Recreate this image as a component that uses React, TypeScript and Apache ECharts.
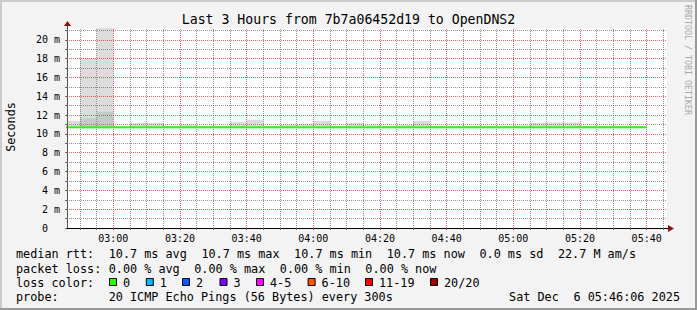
import React, { useEffect, useRef } from "react";
import * as echarts from "echarts";

// ---------- data ----------
const TITLE = "Last 3 Hours from 7b7a06452d19 to OpenDNS2";
const START_TIME = "02:46:06";
const END_TIME = "05:46:06";
const STEP_SECONDS = 300;

const stepStarts = [
  "02:45", "02:50", "02:55", "03:00", "03:05", "03:10", "03:15", "03:20", "03:25",
  "03:30", "03:35", "03:40", "03:45", "03:50", "03:55", "04:00", "04:05", "04:10",
  "04:15", "04:20", "04:25", "04:30", "04:35", "04:40", "04:45", "04:50", "04:55",
  "05:00", "05:05", "05:10", "05:15", "05:20", "05:25", "05:30", "05:35",
];

// median rtt (ms) per step
const medianMs = [
  10.7, 10.7, 10.7, 10.7, 10.7, 10.7, 10.7, 10.7, 10.7,
  10.7, 10.7, 10.7, 10.7, 10.7, 10.7, 10.7, 10.7, 10.7,
  10.7, 10.7, 10.7, 10.7, 10.7, 10.7, 10.7, 10.7, 10.7,
  10.7, 10.7, 10.7, 10.7, 10.7, 10.7, 10.7, 10.7,
];

// smoke: lowest ping (ms)
const smokeMinMs = [
  10.6, 10.6, 10.6, 10.6, 10.6, 10.6, 10.6, 10.6, 10.6,
  10.6, 10.6, 10.6, 10.6, 10.6, 10.6, 10.6, 10.6, 10.6,
  10.6, 10.6, 10.6, 10.6, 10.6, 10.6, 10.6, 10.6, 10.6,
  10.6, 10.6, 10.6, 10.6, 10.6, 10.6, 10.6, 10.6,
];

// smoke: dense part (ms)
const smokeDenseMs = [
  10.6, 11.64, 12.35, 10.6, 10.6, 10.6, 10.6, 10.6, 10.6,
  10.6, 10.6, 10.6, 10.6, 10.6, 10.6, 10.6, 10.6, 10.6,
  10.6, 10.6, 10.6, 10.6, 10.6, 10.6, 10.6, 10.6, 10.6,
  10.6, 10.6, 10.6, 10.6, 10.6, 10.6, 10.6, 10.6,
];

// smoke: highest ping (ms)
const smokeMaxMs = [
  11.39, 18.05, 22.0, 10.8, 11.18, 11.18, 10.85, 11.0, 10.85,
  10.85, 11.28, 11.5, 10.85, 11.0, 11.08, 11.39, 10.85, 11.18,
  10.95, 10.85, 10.95, 11.39, 10.85, 10.85, 10.85, 10.85, 10.85,
  10.9, 11.18, 11.22, 11.22, 10.85, 10.85, 10.85, 10.85,
];

const xLabelTimes = ["03:00", "03:20", "03:40", "04:00", "04:20", "04:40", "05:00", "05:20", "05:40"];
const yLabelValues = [0, 2, 4, 6, 8, 10, 12, 14, 16, 18, 20];
const Y_MAX = 21.25;

const legendRtt = ["median rtt:", "10.7 ms avg", "10.7 ms max", "10.7 ms min", "10.7 ms now", "0.0 ms sd", "22.7 M am/s"];
const legendLoss = ["packet loss:", "0.00 % avg", "0.00 % max", "0.00 % min", "0.00 % now"];
const lossLabels = ["0", "1", "2", "3", "4-5", "6-10", "11-19", "20/20"];
const lossColors = ["#26ff00", "#00b8ff", "#0059ff", "#7e00ff", "#ff00ff", "#ff5500", "#ff0000", "#a10000"];
const probeText = ["probe:", "20 ICMP Echo Pings (56 Bytes) every 300s"];
const dateText = ["Sat Dec", "6 05:46:06 2025"];

// ---------- helpers ----------
const MONO = "'DejaVu Sans Mono', monospace";
const toSec = (s: string) => {
  const p = s.split(":").map(Number);
  return p[0] * 3600 + p[1] * 60 + (p[2] || 0);
};
const fmtHM = (v: number) => {
  const h = Math.floor(v / 3600);
  const m = Math.round((v % 3600) / 60);
  return `${String(h).padStart(2, "0")}:${String(m).padStart(2, "0")}`;
};

const xMin = toSec(START_TIME);
const xMax = toSec(END_TIME);

const W = 697;
const H = 310;
const GL = 67;
const GT = 28;
const GW = 600;
const GH = 200;

export default function App() {
  const ref = useRef<HTMLDivElement>(null);

  useEffect(() => {
    document.body.style.margin = "0";
    if (!ref.current) return;
    const chart = echarts.init(ref.current, undefined, { renderer: "svg" });

    const starts = stepStarts.map(toSec);
    const lightData = starts.map((s, i) => [s, s + STEP_SECONDS, smokeMinMs[i], smokeMaxMs[i]]);
    const denseData = starts.map((s, i) => [s, s + STEP_SECONDS, smokeMinMs[i], smokeDenseMs[i]]);
    const lineData = starts.map((s, i) => [s, medianMs[i]]);
    lineData.push([starts[starts.length - 1] + STEP_SECONDS, medianMs[medianMs.length - 1]]);

    const xTicks: number[] = [];
    for (let t = Math.ceil(xMin / STEP_SECONDS) * STEP_SECONDS; t <= xMax; t += STEP_SECONDS) xTicks.push(t);
    const yTicks: number[] = [];
    for (let v = 0; v <= Math.floor(Y_MAX); v++) yTicks.push(v);

    const minorStyle = { color: "rgba(110,110,110,0.75)", type: [1, 1], width: 1 };
    const majorStyle = { color: "rgba(225,30,30,0.7)", type: [1, 1], width: 1 };
    const gridLines: any[] = [];
    xTicks.forEach((t) => {
      gridLines.push({ xAxis: t, lineStyle: t % 1200 === 0 ? majorStyle : minorStyle });
    });
    yTicks.forEach((v) => {
      if (v === 0) return;
      gridLines.push({ yAxis: v, lineStyle: v % 2 === 0 ? majorStyle : minorStyle });
    });

    const smokeRender = (color: string) => (params: any, api: any) => {
      const s = api.value(0);
      const e = api.value(1);
      const lo = api.value(2);
      const hi = api.value(3);
      if (hi <= lo) return null;
      const p1 = api.coord([s, hi]);
      const p2 = api.coord([e, lo]);
      const cs = params.coordSys;
      const rect = echarts.graphic.clipRectByRect(
        { x: p1[0], y: p1[1], width: p2[0] - p1[0], height: p2[1] - p1[1] },
        { x: cs.x, y: cs.y, width: cs.width, height: cs.height }
      );
      if (!rect) return null;
      return { type: "rect", shape: rect, style: { fill: color } };
    };

    const txt = (text: string, x: number, y: number, extra: any = {}) => ({
      type: "text",
      x,
      y,
      silent: true,
      style: {
        text,
        fill: "#000",
        font: `11.8px ${MONO}`,
        textAlign: "left",
        textVerticalAlign: "middle",
        ...extra,
      },
    });

    const CW = 7.13;
    const LX = 16;
    const graphic: any[] = [
      // frame
      { type: "line", silent: true, shape: { x1: 0, y1: 1, x2: W, y2: 1 }, style: { stroke: "#cbcbcb", lineWidth: 2 } },
      { type: "line", silent: true, shape: { x1: 1, y1: 0, x2: 1, y2: H }, style: { stroke: "#cbcbcb", lineWidth: 2 } },
      { type: "line", silent: true, shape: { x1: 0, y1: H - 1, x2: W, y2: H - 1 }, style: { stroke: "#999999", lineWidth: 2 } },
      { type: "line", silent: true, shape: { x1: W - 1, y1: 0, x2: W - 1, y2: H }, style: { stroke: "#999999", lineWidth: 2 } },
      // axis extensions and arrows
      { type: "line", silent: true, z: 20, shape: { x1: GL + GW, y1: GT + GH + 0.5, x2: GL + GW + 3, y2: GT + GH + 0.5 }, style: { stroke: "#000", lineWidth: 1 } },
      { type: "polygon", silent: true, z: 20, shape: { points: [[GL + GW + 1, GT + GH - 3], [GL + GW + 7, GT + GH + 0.5], [GL + GW + 1, GT + GH + 4]] }, style: { fill: "#8b1010" } },
      { type: "line", silent: true, z: 20, shape: { x1: GL + 0.5, y1: GT, x2: GL + 0.5, y2: GT - 3 }, style: { stroke: "#555", lineWidth: 1 } },
      { type: "polygon", silent: true, z: 20, shape: { points: [[GL - 3, GT - 2], [GL + 0.5, GT - 7], [GL + 4, GT - 2]] }, style: { fill: "#8b1010" } },
      // title
      txt(TITLE, W / 2, 19, { textAlign: "center", font: `13.2px ${MONO}` }),
      // y name
      { ...txt("Seconds", 11, 127, { textAlign: "center" }), rotation: Math.PI / 2 },
      // watermark
      { ...txt("RRDTOOL / TOBI OETIKER", 688, 60, { textAlign: "center", font: `8.3px ${MONO}`, fill: "#a8a8a8" }), rotation: -Math.PI / 2 },
    ];

    const rttCols = [0, 13, 26, 39, 52, 65, 76];
    legendRtt.forEach((t, i) => graphic.push(txt(t, LX + rttCols[i] * CW, 254, {})));
    const lossCols = [0, 13, 25, 37, 49];
    legendLoss.forEach((t, i) => graphic.push(txt(t, LX + lossCols[i] * CW, 268.5, {})));
    graphic.push(txt("loss color:", LX, 282.5, {}));
    const boxX = [109, 145.8, 182, 219.5, 256, 307.6, 365, 430];
    lossLabels.forEach((t, i) => {
      graphic.push({
        type: "rect",
        silent: true,
        shape: { x: boxX[i] + 0.5, y: 278.5, width: 7, height: 7 },
        style: { fill: lossColors[i], stroke: "#000", lineWidth: 1 },
      });
      graphic.push(txt(t, boxX[i] + 14, 282.5, {}));
    });
    graphic.push(txt(probeText[0], LX, 297, {}));
    graphic.push(txt(probeText[1], LX + 13 * CW, 297, {}));
    graphic.push(txt(dateText[1], 680, 297, { textAlign: "right" }));
    graphic.push(txt(dateText[0], 680 - 17 * CW, 297, { textAlign: "right" }));

    const option: any = {
      animation: false,
      backgroundColor: "#f3f3f3",
      grid: { left: GL, top: GT, width: GW, height: GH, show: true, backgroundColor: "#ffffff", borderWidth: 0 },
      xAxis: {
        type: "value",
        min: xMin,
        max: xMax,
        z: 10,
        axisLine: { show: true, onZero: false, lineStyle: { color: "#000", width: 1 } },
        axisTick: { show: true, customValues: xTicks, length: 2, lineStyle: { color: "#666" } },
        axisLabel: {
          customValues: xLabelTimes.map(toSec),
          formatter: (v: number) => fmtHM(v),
          fontFamily: MONO,
          fontSize: 10,
          color: "#000",
          margin: 5,
        },
        splitLine: { show: false },
      },
      yAxis: {
        type: "value",
        min: 0,
        max: Y_MAX,
        z: 10,
        axisLine: { show: true, onZero: false, lineStyle: { color: "#555", width: 1 } },
        axisTick: { show: true, customValues: yTicks, length: 2, lineStyle: { color: "#666" } },
        axisLabel: {
          customValues: yLabelValues,
          formatter: (v: number) => (v === 0 ? "0\u00a0\u00a0" : `${v} m`),
          fontFamily: MONO,
          fontSize: 10,
          color: "#000",
          margin: 7,
        },
        splitLine: { show: false },
      },
      series: [
        {
          type: "custom",
          name: "smoke",
          renderItem: smokeRender("#dcdcdc"),
          data: lightData,
          encode: { x: [0, 1], y: [2, 3] },
          silent: true,
          z: 2,
        },
        {
          type: "custom",
          name: "smoke dense",
          renderItem: smokeRender("#c8c8c8"),
          data: denseData,
          encode: { x: [0, 1], y: [2, 3] },
          silent: true,
          z: 2,
        },
        {
          type: "line",
          name: "grid",
          data: [[xMin, 0]],
          showSymbol: false,
          lineStyle: { width: 0 },
          silent: true,
          markLine: {
            silent: true,
            symbol: ["none", "none"],
            label: { show: false },
            emphasis: { disabled: true },
            animation: false,
            z: 5,
            data: gridLines,
          },
        },
        {
          type: "line",
          name: "median rtt",
          data: lineData,
          step: "end",
          showSymbol: false,
          silent: true,
          z: 8,
          lineStyle: { color: "#26ff00", width: 2 },
        },
      ],
      graphic,
    };

    chart.setOption(option);
    return () => chart.dispose();
  }, []);

  return <div ref={ref} style={{ width: W, height: H }} />;
}
